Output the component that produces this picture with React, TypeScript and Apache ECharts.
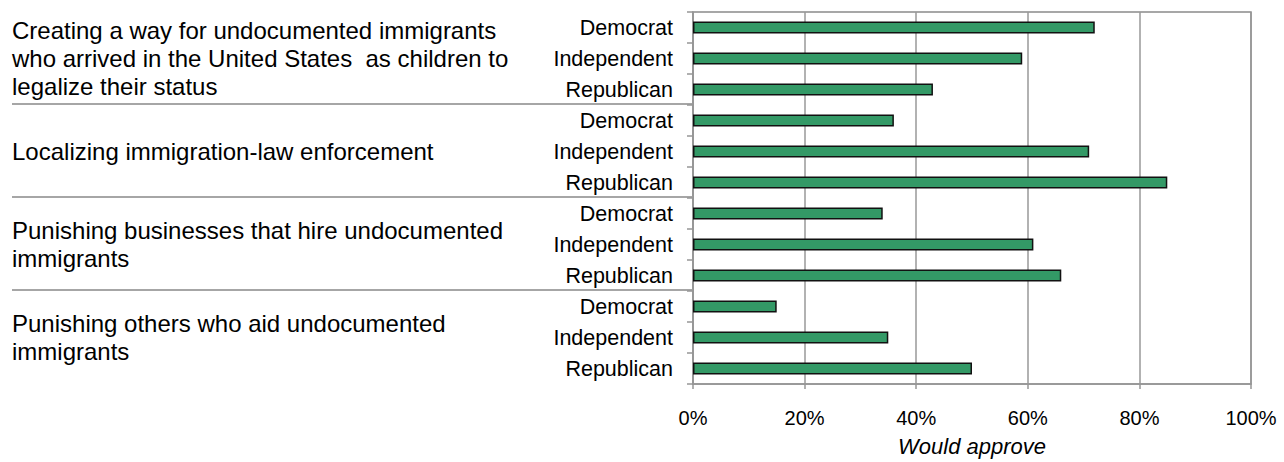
import React, { useEffect, useRef } from "react";
import * as echarts from "echarts";

const topics = [
  "Creating a way for undocumented immigrants\nwho arrived in the United States  as children to\nlegalize their status",
  "Localizing immigration-law enforcement",
  "Punishing businesses that hire undocumented\nimmigrants",
  "Punishing others who aid undocumented\nimmigrants",
];
const parties = ["Democrat", "Independent", "Republican"];
const democrat = [72, 36, 34, 15];
const independent = [59, 71, 61, 35];
const republican = [43, 85, 66, 50];
const xTicks = [0, 20, 40, 60, 80, 100];
const axisName = "Would approve";

const FONT = "'Liberation Sans', Arial, sans-serif";
const GRAY = "#969696";

export default function App() {
  const ref = useRef<HTMLDivElement>(null);
  useEffect(() => {
    document.body.style.margin = "0";
    const el = ref.current!;
    const chart = echarts.init(el, null, { renderer: "svg" });

    const byParty = [democrat, independent, republican];
    const categories: string[] = [];
    const values: number[] = [];
    topics.forEach((_, g) => {
      parties.forEach((p, i) => {
        categories.push(g + "|" + p);
        values.push(byParty[i][g]);
      });
    });

    const grid = { left: 693, top: 12, right: 33, bottom: 74 };

    chart.setOption({
      animation: false,
      grid: {
        ...grid,
        show: true,
        borderColor: "#8a8a8a",
        borderWidth: 1.5,
      },
      xAxis: {
        type: "value",
        min: xTicks[0],
        max: xTicks[xTicks.length - 1],
        interval: xTicks[1] - xTicks[0],
        name: axisName,
        nameLocation: "middle",
        nameGap: 51,
        nameTextStyle: {
          fontFamily: FONT,
          fontSize: 22,
          fontStyle: "italic",
          color: "#000",
        },
        axisLine: { show: true, lineStyle: { color: GRAY, width: 1.5 } },
        axisTick: { show: true, length: 5, lineStyle: { color: GRAY, width: 1.5 } },
        axisLabel: {
          formatter: "{value}%",
          fontFamily: FONT,
          fontSize: 20,
          color: "#000",
          margin: 24,
        },
        splitLine: { show: true, lineStyle: { color: "#999", width: 1.5 } },
      },
      yAxis: {
        type: "category",
        inverse: true,
        data: categories,
        axisLine: { show: true, lineStyle: { color: GRAY, width: 1.5 } },
        axisTick: { show: true, length: 6, lineStyle: { color: GRAY, width: 1.5 } },
        axisLabel: {
          formatter: (v: string) => v.split("|")[1],
          fontFamily: FONT,
          fontSize: 21.5,
          color: "#000",
          margin: 20,
        },
      },
      series: [
        {
          type: "bar",
          data: values,
          barWidth: 12,
          itemStyle: {
            color: "#339966",
            borderColor: "#111",
            borderWidth: 1.5,
          },
        },
      ],
    });

    const py = (i: number) => chart.convertToPixel({ yAxisIndex: 0 }, i) as number;
    const step = py(1) - py(0);
    const graphics: any[] = [];
    topics.forEach((t, g) => {
      const center = (py(g * 3) + py(g * 3 + 2)) / 2;
      graphics.push({
        type: "text",
        x: 12,
        y: center,
        style: {
          text: t,
          fontFamily: FONT,
          fontSize: 24,
          lineHeight: 28,
          fill: "#000",
          verticalAlign: "middle",
          align: "left",
        },
      });
      if (g < topics.length - 1) {
        const yb = py(g * 3 + 2) + step / 2 - 1;
        graphics.push({
          type: "line",
          shape: { x1: 12, y1: yb, x2: grid.left, y2: yb },
          style: { stroke: "#a6a6a6", lineWidth: 2 },
        });
      }
    });
    chart.setOption({ graphic: graphics });

    return () => chart.dispose();
  }, []);
  return (
    <div
      ref={ref}
      style={{ position: "absolute", left: 0, top: 0, width: 1284, height: 462 }}
    />
  );
}
